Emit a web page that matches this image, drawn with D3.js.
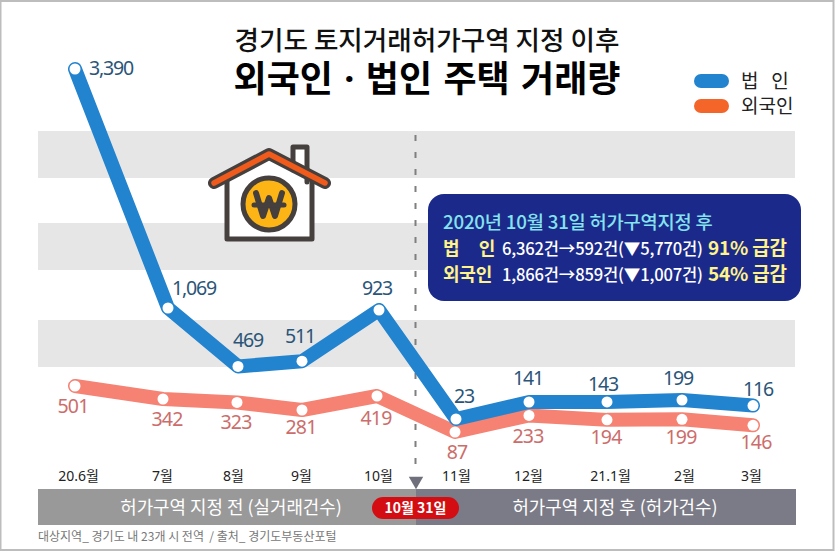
<!DOCTYPE html>
<html>
<head>
<meta charset="utf-8">
<script src="https://cdn.jsdelivr.net/npm/d3@7"></script>
<style>
html, body { margin: 0; padding: 0; background: #fff; }
svg { display: block; }
text { font-family: "Noto Sans", "Noto Sans CJK KR", sans-serif; }
.kr, .kr text { font-family: "Noto Sans CJK KR", sans-serif; }
</style>
</head>
<body>
<svg id="chart" width="835" height="551"></svg>
<script>
// values from the picture
const months = ["20.6월", "7월", "8월", "9월", "10월", "11월", "12월", "21.1월", "2월", "3월"];
const corporate = [3390, 1069, 469, 511, 923, 23, 141, 143, 199, 116];
const foreigner = [501, 342, 323, 281, 419, 87, 233, 194, 199, 146];

const blue = "#2283cf", salmon = "#f58273";
const svg = d3.select("#chart");

// months are not evenly spaced in the original, so the scales are ordinal
const xBlue = d3.scaleOrdinal().domain(months).range([75, 168, 238, 302, 379, 456, 529, 607, 682, 753]);
const xSalmon = d3.scaleOrdinal().domain(months).range([75, 163, 237, 302, 377, 455, 529, 607, 682, 753]);
const xTick = d3.scaleOrdinal().domain(months).range([78, 162, 233, 301, 378, 456, 528, 610, 684, 751]);

// the y axis of the original is not to scale either, so both are piecewise
const yBlue = d3.scaleLinear().domain([23, 141, 199, 923, 1069, 3390]).range([419, 402, 400, 310, 308, 69]);
const ySalmon = d3.scaleLinear().domain([87, 281, 342, 419, 501]).range([432, 410, 399, 396, 386]);

// frame
svg.append("rect").attr("x", 0.5).attr("y", 1).attr("width", 833).attr("height", 549)
    .attr("fill", "#fff").attr("stroke", "#bdbdbd").attr("stroke-width", 2);

// grey bands
[[131, 47], [223, 47], [320, 47]].forEach((b) => {
    svg.append("rect").attr("x", 38).attr("y", b[0]).attr("width", 757).attr("height", b[1]).attr("fill", "#e6e6e6");
});

// title
svg.append("text").attr("class", "kr").attr("x", 427).attr("y", 50).attr("text-anchor", "middle")
    .attr("font-size", 26.6).attr("font-weight", 500).attr("fill", "#111")
    .text("경기도 토지거래허가구역 지정 이후");
svg.append("text").attr("x", 427).attr("y", 92).attr("text-anchor", "middle")
    .attr("font-size", 36).attr("font-weight", 700).attr("fill", "#000").attr("word-spacing", 2)
    .text("외국인 · 법인 주택 거래량");

// legend
[["법   인", blue, 74], ["외국인", "#f4652a", 99]].forEach((d) => {
    svg.append("rect").attr("x", 694).attr("y", d[2]).attr("width", 35).attr("height", 14).attr("rx", 7).attr("fill", d[1]);
    svg.append("text").attr("class", "kr").attr("x", 741).attr("y", d[2] + 14).attr("font-size", 19)
        .attr("fill", "#222").style("white-space", "pre").text(d[0]);
});

// divider
svg.append("line").attr("x1", 415.5).attr("x2", 415.5).attr("y1", 135).attr("y2", 468)
    .attr("stroke", "#7f7f7f").attr("stroke-width", 2).attr("stroke-dasharray", "6,11");

// house icon
const house = svg.append("g").attr("fill", "none").attr("stroke", "#453f3d").attr("stroke-linejoin", "round").attr("stroke-linecap", "round");
house.append("path").attr("d", "M227,179V239H312V179L269,157Z").attr("fill", "#fff").attr("stroke-width", 5);
house.append("path").attr("d", "M293,170V147H307V182").attr("fill", "#fff").attr("stroke-width", 5);
house.append("path").attr("d", "M214,183L269,154L325,183").attr("stroke-width", 12);
house.append("path").attr("d", "M214,183L269,154L325,183").attr("stroke", "#f05a1a").attr("stroke-width", 5.5);
house.append("circle").attr("cx", 269).attr("cy", 204).attr("r", 26).attr("fill", "#fdb515").attr("stroke-width", 5);
house.append("path").attr("d", "M256,193L263,216L269,198L275,216L282,193").attr("stroke-width", 6);
house.append("path").attr("d", "M254,205H284").attr("stroke-width", 5);

// lines
const lineOf = (x, y, values) => d3.line().x((d, i) => x(months[i])).y((d) => y(d))(values);
[[xSalmon, ySalmon, foreigner, salmon], [xBlue, yBlue, corporate, blue]].forEach((s) => {
    svg.append("path").attr("d", lineOf(s[0], s[1], s[2])).attr("fill", "none")
        .attr("stroke", s[3]).attr("stroke-width", 14).attr("stroke-linejoin", "round").attr("stroke-linecap", "round");
    svg.append("g").selectAll("circle").data(s[2]).join("circle")
        .attr("cx", (d, i) => s[0](months[i])).attr("cy", (d) => s[1](d))
        .attr("r", 5.5).attr("fill", "#fff");
});

// value labels, nudged by hand like the original
const blueDx = [36, 26, 10, -2, -2, 8, -1, -4, -4, 5];
const blueDy = [6, -13, -19, -18, -15, -16, -17, -11, -15, -10];
const salmonDx = [-2, 4, -1, -1, -1, 2, -1, -1, -1, 3];
const salmonDy = [27, 27, 27, 24, 29, 27, 28, 24, 25, 24];
const fmt = d3.format(",");
svg.append("g").selectAll("text").data(corporate).join("text")
    .attr("x", (d, i) => xBlue(months[i]) + blueDx[i]).attr("y", (d, i) => yBlue(d) + blueDy[i])
    .attr("text-anchor", "middle").attr("font-size", 19.5).attr("letter-spacing", -1.2).attr("fill", "#2a5578")
    .text((d) => fmt(d));
svg.append("g").selectAll("text").data(foreigner).join("text")
    .attr("x", (d, i) => xSalmon(months[i]) + salmonDx[i]).attr("y", (d, i) => ySalmon(d) + salmonDy[i])
    .attr("text-anchor", "middle").attr("font-size", 19.5).attr("letter-spacing", -0.8).attr("fill", "#cc6d6b")
    .text((d) => fmt(d));

// info box
svg.append("rect").attr("x", 428).attr("y", 194).attr("width", 373).attr("height", 107).attr("rx", 16).attr("fill", "#1b2a8a");
const info = svg.append("g").attr("class", "kr").attr("font-size", 16.6).attr("font-weight", 500).attr("letter-spacing", -0.2);
info.append("text").attr("x", 443).attr("y", 229).attr("fill", "#84e3ee").attr("font-size", 18.7).text("2020년 10월 31일 허가구역지정 후");
[["법     인", "6,362건→592건(▼5,770건)", "91% 급감", 255], ["외국인", "1,866건→859건(▼1,007건)", "54% 급감", 281]].forEach((r) => {
    const row = info.append("text").attr("y", r[3]).attr("fill", "#fff");
    row.append("tspan").attr("x", 443).attr("fill", "#fff38a").attr("font-weight", 700).attr("font-size", 18)
        .style("white-space", "pre").text(r[0]);
    row.append("tspan").attr("x", 502).text(r[1]);
    row.append("tspan").attr("x", 708).attr("fill", "#fff38a").attr("font-weight", 700).attr("font-size", 19).text(r[2]);
});

// bottom strip
svg.append("rect").attr("x", 38).attr("y", 489).attr("width", 378).attr("height", 36).attr("fill", "#999");
svg.append("rect").attr("x", 416).attr("y", 489).attr("width", 380).attr("height", 36).attr("fill", "#7b7b87");
svg.append("path").attr("d", d3.symbol(d3.symbolTriangle, 90)()).attr("transform", "translate(416,481) rotate(180)").attr("fill", "#70707c");
svg.append("rect").attr("x", 372).attr("y", 497).attr("width", 87).attr("height", 22).attr("rx", 11).attr("fill", "#d40d12");
svg.append("text").attr("class", "kr").attr("x", 415.5).attr("y", 513).attr("text-anchor", "middle").attr("font-size", 14)
    .attr("font-weight", 700).attr("fill", "#fff").text("10월 31일");
svg.append("text").attr("class", "kr").attr("x", 231).attr("y", 513.5).attr("text-anchor", "middle").attr("font-size", 17.9)
    .attr("fill", "#fff").text("허가구역 지정 전 (실거래건수)");
svg.append("text").attr("class", "kr").attr("x", 615).attr("y", 513.5).attr("text-anchor", "middle").attr("font-size", 17.9)
    .attr("fill", "#fff").text("허가구역 지정 후 (허가건수)");

// month ticks
const axis = d3.axisBottom(xTick).tickSize(0).tickPadding(0);
const axisG = svg.append("g").attr("transform", "translate(0,471)").call(axis);
axisG.select(".domain").remove();
axisG.selectAll("text").attr("font-size", 14).attr("fill", "#222").style("font-family", '"Noto Sans", "Noto Sans CJK KR", sans-serif');

// source
svg.append("text").attr("class", "kr").attr("x", 38).attr("y", 541).attr("font-size", 12).attr("fill", "#777")
    .style("white-space", "pre").text("대상지역_ 경기도 내 23개 시 전역  / 출처_ 경기도부동산포털");
</script>
</body>
</html>
